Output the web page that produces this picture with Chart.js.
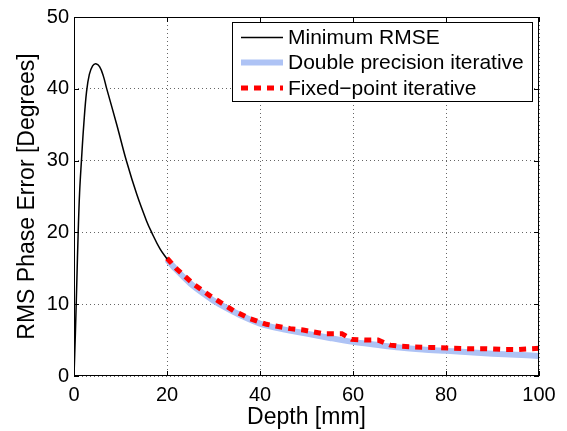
<!DOCTYPE html>
<html lang="en">
<head>
  <meta charset="UTF-8">
  <title>RMS Phase Error vs Depth</title>
  <script src="https://cdn.jsdelivr.net/npm/chart.js"></script>
  <style>
    body { margin: 0; background: #fff; }
    #wrap { width: 567px; height: 431px; }
  </style>
</head>
<body>
  <div id="wrap"><canvas id="phaseChart" width="567" height="431"></canvas></div>

  <script>
    // Minimum RMSE (black)
    const depthMin = [0, 0.3, 0.6, 0.9, 1.2, 1.6, 2.1, 2.7, 3.3, 4.0, 4.7, 5.5, 6.3, 7.0, 9.2, 11.3, 13.5, 15.6, 16.7, 18.5, 20];
    const rmseMin  = [0, 6, 13, 20, 25.5, 30, 35, 39.6, 42.0, 43.2, 43.5, 43.1, 41.8, 40.1, 35.0, 29.9, 25.3, 21.6, 20.0, 17.7, 16.3];

    // Double precision iterative (light blue)
    const depthDouble = [20, 22, 25, 28, 30, 33, 36, 40, 45, 50, 55, 60, 65, 70, 75, 80, 85, 90, 95, 100];
    const rmseDouble  = [16.2, 14.8, 12.9, 11.4, 10.5, 9.4, 8.4, 7.3, 6.5, 5.9, 5.3, 4.75, 4.35, 3.97, 3.7, 3.5, 3.3, 3.1, 2.95, 2.8];

    // Fixed-point iterative (red dashed)
    const depthFixed = [20, 22.1, 25.7, 29.2, 31.4, 34.3, 37.8, 41.4, 46.5, 49.3, 53.6, 57.6, 59.7, 62.6, 65.4, 68, 70.1, 73, 76.9, 80.9, 84.8, 88.4, 92, 95.6, 100];
    const rmseFixed  = [16.4, 14.9, 12.8, 11.2, 10.3, 9.1, 8.0, 7.2, 6.6, 6.4, 5.9, 5.9, 5.1, 5.0, 5.0, 4.3, 4.15, 4.06, 3.97, 3.88, 3.8, 3.8, 3.7, 3.7, 3.85];

    const xTicks = [0, 20, 40, 60, 80, 100];
    const yTicks = [0, 10, 20, 30, 40, 50];

    const toPts = (xs, ys) => xs.map((x, i) => ({ x: x, y: ys[i] }));
    const FONT = "'Liberation Sans', Arial, Helvetica, sans-serif";

    // box, inward ticks and legend drawn on top (matlab look)
    const matlabFrame = {
      id: 'matlabFrame',
      afterDraw(chart) {
        const { ctx, chartArea: a, scales } = chart;
        ctx.save();
        ctx.strokeStyle = '#000';
        ctx.lineWidth = 1;
        ctx.strokeRect(a.left + 0.5, a.top + 0.5, a.right - a.left - 1, a.bottom - a.top - 1);
        const tl = 5;
        ctx.beginPath();
        xTicks.forEach(v => {
          const px = Math.round(scales.x.getPixelForValue(v)) + 0.5;
          ctx.moveTo(px, a.bottom); ctx.lineTo(px, a.bottom - tl);
          ctx.moveTo(px, a.top); ctx.lineTo(px, a.top + tl);
        });
        yTicks.forEach(v => {
          const py = Math.round(scales.y.getPixelForValue(v)) + 0.5;
          ctx.moveTo(a.left, py); ctx.lineTo(a.left + tl, py);
          ctx.moveTo(a.right, py); ctx.lineTo(a.right - tl, py);
        });
        ctx.stroke();

        // legend
        const bx = 232, by = 22, bw = 300, bh = 79;
        ctx.fillStyle = '#fff';
        ctx.fillRect(bx, by, bw, bh);
        ctx.strokeRect(bx + 0.5, by + 0.5, bw, bh);
        const rows = [37.5, 62.5, 88];
        ctx.font = '21px ' + FONT;
        ctx.textBaseline = 'middle';
        chart.data.datasets.forEach((ds, i) => {
          const y = rows[i];
          ctx.save();
          ctx.strokeStyle = ds.borderColor;
          ctx.lineWidth = ds.borderWidth;
          ctx.setLineDash(ds.borderDash || []);
          ctx.beginPath();
          ctx.moveTo(241, y); ctx.lineTo(283, y);
          ctx.stroke();
          ctx.restore();
          ctx.fillStyle = '#000';
          ctx.fillText(ds.label, 288, y + 1);
        });
        ctx.restore();
      }
    };

    new Chart(document.getElementById('phaseChart'), {
      type: 'line',
      data: {
        datasets: [
          {
            label: 'Minimum RMSE',
            data: toPts(depthMin, rmseMin),
            borderColor: '#000',
            borderWidth: 1.5,
            pointRadius: 0,
            tension: 0.4,
            order: 0
          },
          {
            label: 'Double precision iterative',
            data: toPts(depthDouble, rmseDouble),
            borderColor: '#aec3f5',
            borderWidth: 6,
            pointRadius: 0,
            tension: 0.3,
            order: 2
          },
          {
            label: 'Fixed\u2212point iterative',
            data: toPts(depthFixed, rmseFixed),
            borderColor: '#ff0000',
            borderWidth: 5,
            borderDash: [7, 6],
            pointRadius: 0,
            tension: 0,
            order: 1
          }
        ]
      },
      options: {
        responsive: false,
        animation: false,
        layout: { padding: { top: 15, right: 28, left: 0, bottom: 0 } },
        plugins: { legend: { display: false }, tooltip: { enabled: false } },
        scales: {
          x: {
            type: 'linear',
            min: 0, max: 100,
            afterFit: s => { s.height = 55; },
            afterBuildTicks: s => { s.ticks = xTicks.map(v => ({ value: v })); },
            ticks: { color: '#000', padding: 7, font: { family: FONT, size: 20 } },
            grid: { color: '#666', drawTicks: false, lineWidth: 1 },
            border: { display: false, dash: [1, 3] },
            title: { display: true, text: 'Depth [mm]', color: '#000', padding: { top: 0, bottom: 0 }, font: { family: FONT, size: 23 } }
          },
          y: {
            min: 0, max: 50,
            afterFit: s => { s.width = 74; },
            afterBuildTicks: s => { s.ticks = yTicks.map(v => ({ value: v })); },
            ticks: { color: '#000', padding: 5, font: { family: FONT, size: 20 } },
            grid: { color: '#666', drawTicks: false, lineWidth: 1 },
            border: { display: false, dash: [1, 3] },
            title: { display: true, text: 'RMS Phase Error [Degrees]', color: '#000', padding: { top: 14, bottom: 0 }, font: { family: FONT, size: 23 } }
          }
        }
      },
      plugins: [matlabFrame]
    });
  </script>
</body>
</html>
